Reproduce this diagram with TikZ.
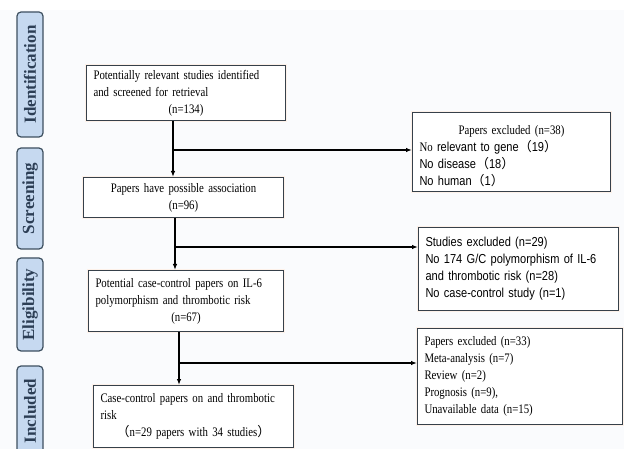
\documentclass[tikz,border=0pt]{standalone}
\usepackage{fontspec}
\setmainfont{Liberation Serif}[FakeStretch=0.83]
\newfontfamily\arial{Liberation Sans}[FakeStretch=0.85]
\newfontfamily\cjk{Noto Sans CJK SC}
\newfontfamily\stagefont{Liberation Serif}
\usetikzlibrary{arrows.meta,positioning}
\definecolor{stagefill}{HTML}{C6D9F0}
\definecolor{stageline}{HTML}{3E5060}
\definecolor{stagetext}{HTML}{2C3E55}
\definecolor{boxline}{HTML}{36404A}
\definecolor{halo}{HTML}{FDF1E9}
\definecolor{paper}{HTML}{FAFBFD}
\newcommand{\ctrline}[1]{\par{\centering #1\par}}
\newcommand{\fw}[1]{{\cjk #1}}
\tikzset{
    stage/.style={draw=stageline, fill=stagefill, rounded corners=4pt, line width=1.2pt,
        rotate=90, minimum height=26pt, inner sep=0pt,
        font=\stagefont\fontsize{17}{17}\selectfont\bfseries, text=stagetext},
    box/.style args={#1 #2}{draw=boxline, fill=white, line width=1pt,
        preaction={draw=halo, line width=2.6pt},
        anchor=north west, inner xsep=7pt, inner ysep=0pt,
        text width=#1pt-14pt, minimum height=#2pt, align=left,
        font=\fontsize{13}{17}\selectfont},
    flow/.style={line width=1.3pt, -{Latex[length=6pt,width=4.5pt]}}
}
\begin{document}
\begin{tikzpicture}[x=1pt,y=-1pt]
    \useasboundingbox (0,0) rectangle (624,449);
    \fill[paper] (0,10) rectangle (624,449);
    % stages on the left
    \node[stage, minimum width=125pt] (st1) at (30,74.5) {Identification};
    \node[stage, minimum width=101pt] (st2) at (30,198.5) {Screening};
    \node[stage, minimum width=93pt] (st3) at (30,304.5) {Eligibility};
    \node[stage, minimum width=90pt] (st4) at (30,411) {Included};
    % main column
    \node[box={199 55}] (b1) at (86,65) {Potentially relevant studies identified\\and screened for retrieval\ctrline{(n=134)}};
    \node[box={200 40}, align=center] (b2) at (83,177) {Papers have possible association\\(n=96)};
    \node[box={195 61}] (b3) at (88,270) {Potential case-control papers on IL-6\\polymorphism and thrombotic risk\ctrline{(n=67)}};
    \node[box={200 62}] (b4) at (93,385) {Case-control papers on and thrombotic\\risk\ctrline{\fw{（}n=29 papers with 34 studies\fw{）}}};
    % excluded boxes
    \node[box={198 79}] (e1) at (412,112) {\ctrline{Papers excluded (n=38)}No {\arial relevant to gene\fw{（}19\fw{）}}\\{\arial No disease\fw{（}18\fw{）}}\\{\arial No human\fw{（}1\fw{）}}};
    \node[box={200 83}, font=\arial\fontsize{13}{17}\selectfont] (e2) at (418,227) {Studies excluded (n=29)\\No 174 G/C polymorphism of IL-6\\and thrombotic risk (n=28)\\No case-control study (n=1)};
    \node[box={205 96}] (e3) at (417,328) {Papers excluded (n=33)\\Meta-analysis (n=7)\\Review (n=2)\\Prognosis (n=9),\\Unavailable data (n=15)};
    % split points
    \coordinate (s1) at (173,150);
    \coordinate (s2) at (175,247);
    \coordinate (s3) at (179,363);
    \draw[flow] (s1 |- b1.south) -- (s1 |- b2.north);
    \draw[flow] (s1) -- (s1 -| e1.west);
    \draw[flow] (s2 |- b2.south) -- (s2 |- b3.north);
    \draw[flow] (s2) -- (s2 -| e2.west);
    \draw[flow] (s3 |- b3.south) -- (s3 |- b4.north);
    \draw[flow] (s3) -- (s3 -| e3.west);
\end{tikzpicture}
\end{document}
